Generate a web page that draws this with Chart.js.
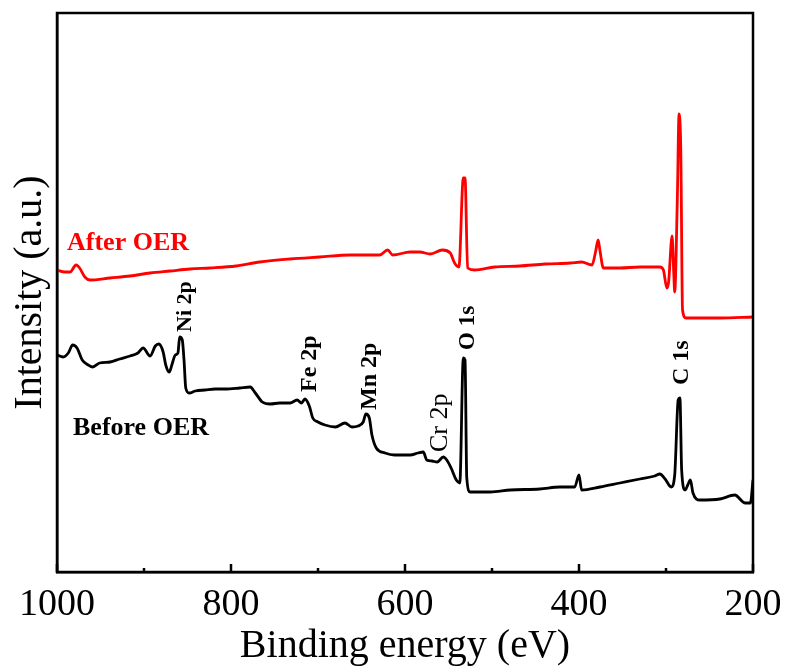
<!DOCTYPE html>
<html>
<head>
<meta charset="utf-8">
<title>XPS survey</title>
<script src="https://cdn.jsdelivr.net/npm/chart.js@4.4.0/dist/chart.umd.min.js"></script>
<style>
  html, body { margin: 0; padding: 0; background: #fff; }
</style>
</head>
<body>
<canvas id="xpsChart" width="790" height="670"></canvas>
<script>
// Survey spectra: binding energy (eV) vs intensity (a.u.)
const energyBefore = [1000, 993, 987, 982, 977, 971, 964, 959, 951, 939, 928, 916, 907, 901, 893, 887, 883, 878, 875, 871,
    868, 864, 861, 859, 856, 854, 852, 848, 841, 830, 818, 807, 790, 778, 772, 764, 755, 744, 732, 724,
    719, 715, 710, 706, 700, 692, 680, 669, 661, 654, 648, 645, 641, 638, 633, 623, 612, 594, 585, 579,
    575, 569, 563, 556, 552, 547, 541, 537, 533, 531, 529, 525, 502, 479, 445, 422, 405, 400, 397, 376,
    353, 330, 313, 307, 301, 294, 290, 286, 284, 282, 278, 275, 272, 269, 261, 238, 221, 209, 203, 200];
const intensityBefore = [217, 215, 219, 227, 224, 212, 207, 205, 209, 210, 213, 216, 219, 224, 216, 226, 228, 220, 207, 200,
    207, 217, 219, 235, 232, 212, 184, 179, 181, 182, 183, 183, 184, 185, 179, 170, 168, 169, 169, 172,
    169, 173, 166, 154, 150, 147, 145, 149, 145, 146, 150, 158, 154, 137, 124, 119, 117, 117, 119, 120,
    112, 111, 110, 115, 112, 104, 92, 89, 214, 212, 94, 80, 80, 82, 83, 85, 85, 97, 82, 85,
    89, 93, 96, 98, 93, 85, 97, 172, 174, 102, 82, 87, 92, 79, 72, 73, 77, 69, 69, 92];

const energyAfter = [1000, 991, 985, 978, 974, 968, 962, 939, 916, 893, 870, 847, 824, 794, 767, 732, 698, 663, 629, 620,
    614, 594, 583, 571, 557, 548, 543, 538, 533, 531, 528, 520, 497, 468, 439, 410, 397, 385, 381, 378,
    376, 372, 353, 330, 307, 303, 299, 297, 293, 291, 290, 287, 285, 283, 281, 277, 238, 200];
const intensityAfter = [302, 300, 300, 307, 304, 295, 292, 294, 296, 299, 301, 303, 304, 306, 310, 313, 315, 317, 317, 322,
    317, 320, 320, 318, 322, 319, 309, 305, 394, 394, 304, 302, 305, 306, 308, 309, 310, 307, 320, 332,
    322, 304, 304, 305, 305, 302, 284, 290, 336, 297, 280, 372, 458, 422, 262, 254, 254, 255];

const xTickLabels = [1000, 800, 600, 400, 200];
const seriesNames = ["Before OER", "After OER"];
const peakNames = ["Ni 2p", "Fe 2p", "Mn 2p", "Cr 2p", "O 1s", "C 1s"];

const serif = "'Times New Roman', 'Liberation Serif', serif";

// where the text goes, in axis units (eV, intensity)
const seriesSpots = [
    { ev: 981.6, y: 137, color: "#000000" },
    { ev: 988.5, y: 322, color: "#ff0000" }
];
const peakSpots = [
    { ev: 853, y: 240, weight: "bold", size: 22 },
    { ev: 709, y: 180, weight: "bold", size: 24 },
    { ev: 640, y: 162, weight: "bold", size: 24 },
    { ev: 559, y: 120, weight: "normal", size: 26 },
    { ev: 528, y: 222, weight: "bold", size: 23 },
    { ev: 282, y: 187, weight: "bold", size: 24 }
];

function toPoints(xs, ys) {
    return xs.map(function (x, i) {
        return { x: x, y: ys[i] };
    });
}

// frame, inward ticks and the text on the plot
const decorPlugin = {
    id: "decor",
    afterDraw(chart) {
        const ctx = chart.ctx;
        const area = chart.chartArea;
        const xs = chart.scales.x;
        const ys = chart.scales.y;

        ctx.save();
        ctx.strokeStyle = "#000";
        ctx.lineWidth = 2.5;
        ctx.strokeRect(area.left, area.top, area.right - area.left, area.bottom - area.top);

        xs.ticks.forEach(function (t) {
            const px = xs.getPixelForValue(t.value);
            const len = xTickLabels.includes(t.value) ? 8 : 4;
            ctx.beginPath();
            ctx.moveTo(px, area.bottom);
            ctx.lineTo(px, area.bottom - len);
            ctx.stroke();
        });

        ctx.textAlign = "left";
        ctx.textBaseline = "alphabetic";
        ctx.font = "bold 26px " + serif;
        seriesNames.forEach(function (name, i) {
            const s = seriesSpots[i];
            ctx.fillStyle = s.color;
            ctx.fillText(name, xs.getPixelForValue(s.ev), ys.getPixelForValue(s.y));
        });

        ctx.fillStyle = "#000";
        ctx.textBaseline = "middle";
        peakNames.forEach(function (name, i) {
            const s = peakSpots[i];
            ctx.save();
            ctx.translate(xs.getPixelForValue(s.ev), ys.getPixelForValue(s.y));
            ctx.rotate(-Math.PI / 2);
            ctx.font = s.weight + " " + s.size + "px " + serif;
            ctx.fillText(name, 0, 0);
            ctx.restore();
        });
        ctx.restore();
    }
};

new Chart(document.getElementById("xpsChart"), {
    type: "line",
    data: {
        datasets: [
            {
                label: seriesNames[0],
                data: toPoints(energyBefore, intensityBefore),
                borderColor: "#000000",
                borderWidth: 2.8,
                pointRadius: 0,
                cubicInterpolationMode: "monotone",
                borderJoinStyle: "round"
            },
            {
                label: seriesNames[1],
                data: toPoints(energyAfter, intensityAfter),
                borderColor: "#ff0000",
                borderWidth: 2.8,
                pointRadius: 0,
                cubicInterpolationMode: "monotone",
                borderJoinStyle: "round"
            }
        ]
    },
    options: {
        responsive: false,
        animation: false,
        layout: { padding: { top: 13, right: 37, left: 0, bottom: 0 } },
        plugins: {
            legend: { display: false },
            tooltip: { enabled: false }
        },
        scales: {
            x: {
                type: "linear",
                reverse: true,
                min: 200,
                max: 1000,
                grid: { display: false },
                border: { display: true, color: "#000", width: 2.5 },
                ticks: {
                    stepSize: 100,
                    autoSkip: false,
                    maxRotation: 0,
                    padding: 2,
                    color: "#000",
                    font: { family: serif, size: 38 },
                    callback: function (v) {
                        return xTickLabels.includes(v) ? String(v) : "";
                    }
                },
                title: {
                    display: true,
                    text: "Binding energy (eV)",
                    color: "#000",
                    font: { family: serif, size: 40 },
                    padding: 0
                },
                afterFit: function (scale) {
                    scale.height = 98;
                }
            },
            y: {
                min: 0,
                max: 559,
                grid: { display: false },
                border: { display: true, color: "#000", width: 2.5 },
                ticks: { display: false },
                title: {
                    display: true,
                    text: "Intensity (a.u.)",
                    color: "#000",
                    font: { family: serif, size: 40 },
                    padding: { top: 6, bottom: 0 }
                },
                afterFit: function (scale) {
                    scale.width = 57;
                }
            }
        }
    },
    plugins: [decorPlugin]
});
</script>
</body>
</html>
